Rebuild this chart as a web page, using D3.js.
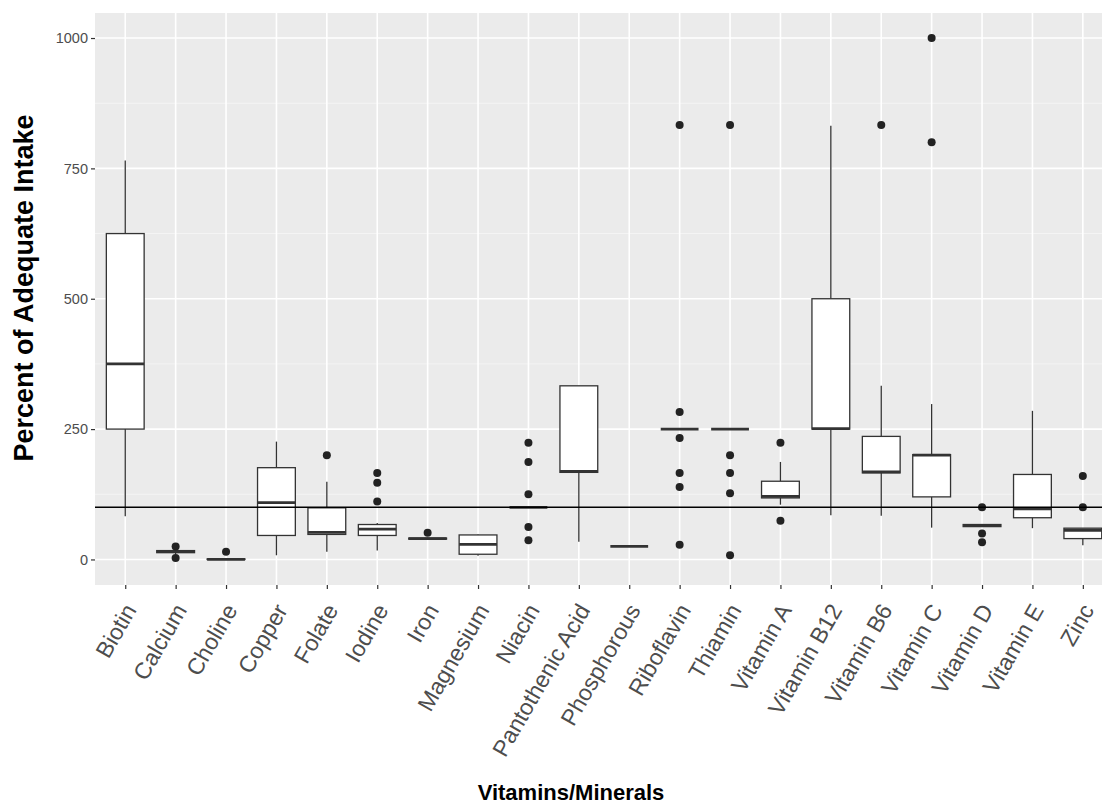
<html>
  <head>
    <script src="https://cdn.jsdelivr.net/npm/d3@7"></script>
    <style>
      body { margin: 0; background: white; }
      text { font-family: "Liberation Sans", Arial, Helvetica, sans-serif; }
    </style>
  </head>
  <body>
    <svg id="chart" width="1102" height="808"></svg>
    <script>
      // five-number summaries
      var categories = ["Biotin", "Calcium", "Choline", "Copper", "Folate", "Iodine", "Iron",
        "Magnesium", "Niacin", "Pantothenic Acid", "Phosphorous", "Riboflavin", "Thiamin",
        "Vitamin A", "Vitamin B12", "Vitamin B6", "Vitamin C", "Vitamin D", "Vitamin E", "Zinc"];
      var lower  = [83, 10, 0, 8, 15, 17, 38, 7, 100, 34, 25, 250, 250, 105, 85, 84, 61, 64, 60, 27];
      var q1     = [250, 13, 0, 46, 48, 46, 39, 10, 100, 167, 25, 250, 250, 118, 250, 166, 120, 63, 80, 40];
      var median = [375, 15, 0, 109, 52, 58, 40, 29, 100, 169, 25, 250, 250, 121, 251, 168, 200, 65, 97, 56];
      var q3     = [625, 17, 1, 176, 99, 67, 41, 47, 100, 333, 25, 250, 250, 150, 500, 236, 201, 67, 163, 60];
      var upper  = [765, 20, 1, 226, 149, 70, 42, 48, 100, 333, 25, 250, 250, 187, 832, 333, 298, 67, 285, 60];
      var outliers = [[], [25, 3], [15], [], [200], [166, 147, 111], [51], [], [224, 187, 125, 62, 37],
        [], [], [833, 283, 233, 166, 139, 28], [833, 200, 166, 127, 8], [224, 74], [], [833],
        [1000, 800], [100, 50, 33], [], [160, 100]];
      var yTicks = [0, 250, 500, 750, 1000];
      var yMinor = [125, 375, 625, 875];
      var refLine = 100;

      var width = 1102, height = 808;
      var panelLeft = 95, panelTop = 13, panelBottom = 585;
      var step = 50.4;

      var svg = d3.select("#chart");

      var x = d3.scalePoint()
          .domain(categories)
          .range([panelLeft + 0.6 * step, panelLeft + 0.6 * step + 19 * step]);
      var y = d3.scaleLinear()
          .domain([-49, 1048])
          .range([panelBottom, panelTop]);
      var boxW = 0.75 * step;

      var data = categories.map(function(c, i) {
        return {name: c, lo: lower[i], q1: q1[i], med: median[i], q3: q3[i], hi: upper[i], out: outliers[i]};
      });

      // panel
      svg.append("rect")
        .attr("x", panelLeft).attr("y", panelTop)
        .attr("width", width - panelLeft).attr("height", panelBottom - panelTop)
        .attr("fill", "#ebebeb");

      var grid = svg.append("g");
      grid.selectAll(".minor").data(yMinor).enter().append("line")
        .attr("x1", panelLeft).attr("x2", width)
        .attr("y1", d => y(d)).attr("y2", d => y(d))
        .attr("stroke", "#f7f7f7").attr("stroke-width", 0.8);
      grid.selectAll(".major").data(yTicks).enter().append("line")
        .attr("x1", panelLeft).attr("x2", width)
        .attr("y1", d => y(d)).attr("y2", d => y(d))
        .attr("stroke", "white").attr("stroke-width", 1.6);
      grid.selectAll(".vert").data(categories).enter().append("line")
        .attr("x1", d => x(d)).attr("x2", d => x(d))
        .attr("y1", panelTop).attr("y2", panelBottom)
        .attr("stroke", "white").attr("stroke-width", 1.6);

      // axes
      var yAxis = svg.append("g")
        .attr("transform", "translate(" + panelLeft + ",0)")
        .call(d3.axisLeft(y).tickValues(yTicks).tickFormat(d3.format("d")).tickSize(4).tickPadding(3));
      yAxis.select(".domain").remove();
      yAxis.selectAll("line").attr("stroke", "#333").attr("stroke-width", 1.2);
      yAxis.selectAll("text").attr("fill", "#4d4d4d").style("font-size", "14.5px");

      var xAxis = svg.append("g")
        .attr("transform", "translate(0," + panelBottom + ")")
        .call(d3.axisBottom(x).tickSize(4).tickFormat(""));
      xAxis.select(".domain").remove();
      xAxis.selectAll("line").attr("stroke", "#333").attr("stroke-width", 1.2);

      svg.append("g").selectAll("text").data(categories).enter().append("text")
        .attr("transform", d => "translate(" + (x(d) + 12) + "," + (panelBottom + 25) + ") rotate(-60)")
        .attr("text-anchor", "end")
        .attr("fill", "#4d4d4d")
        .style("font-size", "23px")
        .text(d => d);

      // boxes
      var boxes = svg.append("g").selectAll("g").data(data).enter().append("g");
      boxes.append("line")
        .attr("x1", d => x(d.name)).attr("x2", d => x(d.name))
        .attr("y1", d => y(d.q3)).attr("y2", d => y(d.hi))
        .attr("stroke", "#333").attr("stroke-width", 1.3);
      boxes.append("line")
        .attr("x1", d => x(d.name)).attr("x2", d => x(d.name))
        .attr("y1", d => y(d.q1)).attr("y2", d => y(d.lo))
        .attr("stroke", "#333").attr("stroke-width", 1.3);
      boxes.append("rect")
        .attr("x", d => x(d.name) - boxW / 2).attr("width", boxW)
        .attr("y", d => y(d.q3)).attr("height", d => y(d.q1) - y(d.q3))
        .attr("fill", "white").attr("stroke", "#333").attr("stroke-width", 1.3);
      boxes.append("line")
        .attr("x1", d => x(d.name) - boxW / 2).attr("x2", d => x(d.name) + boxW / 2)
        .attr("y1", d => y(d.med)).attr("y2", d => y(d.med))
        .attr("stroke", "#333").attr("stroke-width", 2.8);
      boxes.selectAll("circle").data(d => d.out.map(v => ({name: d.name, v: v}))).enter().append("circle")
        .attr("cx", d => x(d.name)).attr("cy", d => y(d.v))
        .attr("r", 4).attr("fill", "#222");

      // reference line
      svg.append("line")
        .attr("x1", panelLeft).attr("x2", width)
        .attr("y1", y(refLine)).attr("y2", y(refLine))
        .attr("stroke", "black").attr("stroke-width", 1.4);

      // titles
      svg.append("text")
        .attr("x", 571).attr("y", 800)
        .attr("text-anchor", "middle")
        .style("font-size", "22px").style("font-weight", "bold")
        .text("Vitamins/Minerals");
      svg.append("text")
        .attr("transform", "translate(33,288) rotate(-90)")
        .attr("text-anchor", "middle")
        .style("font-size", "27px").style("font-weight", "bold")
        .text("Percent of Adequate Intake");
    </script>
  </body>
</html>
